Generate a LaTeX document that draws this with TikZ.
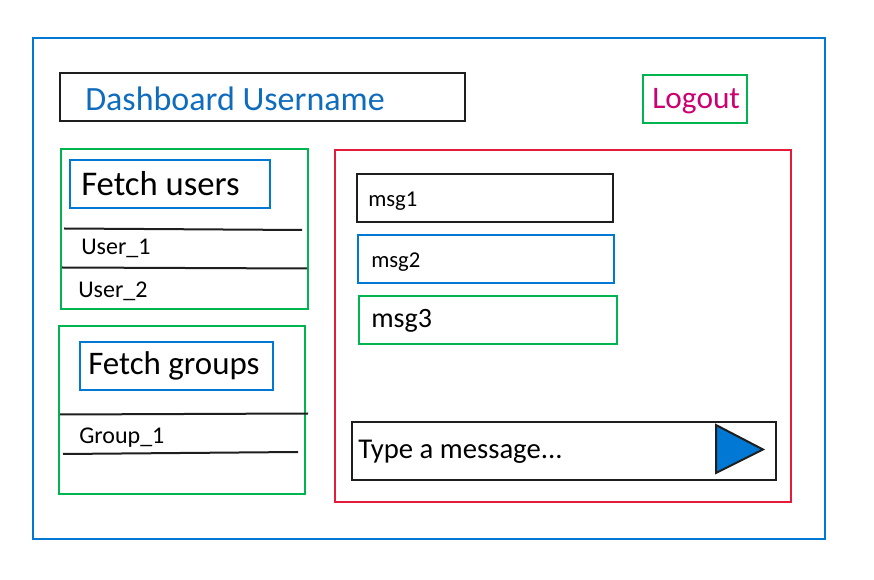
\documentclass[tikz,border=0pt]{standalone}
\usepackage{fontspec}
\setmainfont{Carlito}
\definecolor{wireblue}{HTML}{0078D4}
\definecolor{wiretitle}{HTML}{0F6CBD}
\definecolor{wiregreen}{HTML}{00B550}
\definecolor{wirered}{HTML}{E81A3B}
\definecolor{wirepink}{HTML}{CC0070}
\definecolor{wireblack}{HTML}{1E1E1E}
\tikzset{
  wbox/.style={draw=#1,line width=1.5pt,inner sep=0pt},
  wtext/.style={inner sep=0pt,anchor=west,text=black,font=\fontsize{#1}{#1}\selectfont},
  wline/.style={draw=wireblack,line width=1.5pt}
}
\begin{document}
\begin{tikzpicture}[x=.75pt,y=-.75pt]
\useasboundingbox (0,0) rectangle (874,580);
\node[wbox=wireblue,minimum width=594pt,minimum height=376pt] (page) at (429,288.5) {};
\node[wbox=wireblack,minimum width=304pt,minimum height=36pt] (title) at (262.5,97.5) {};
\node[wtext=25.5,text=wiretitle] (titletext) at (85,99) {Dashboard Username};
\node[wbox=wiregreen,minimum width=78pt,minimum height=36pt] (logout) at (695,99.5) {};
\node[wtext=23.5,text=wirepink] (logouttext) at (652,101) {Logout};
\node[wbox=wiregreen,minimum width=185pt,minimum height=119.5pt] (users) at (184.5,229) {};
\node[wbox=wireblue,minimum width=150.5pt,minimum height=36pt] (fetchusers) at (170,184) {};
\node[wtext=26] (fetchuserstext) at (81,184) {Fetch users};
\coordinate (u1a) at (64,228.5);
\coordinate (u1b) at (302,230);
\coordinate (u2a) at (62,267.5);
\coordinate (u2b) at (307,268.5);
\draw[wline] (u1a) -- (u1b);
\draw[wline] (u2a) -- (u2b);
\node[wtext=18] (user1) at (81,248.5) {User\_1};
\node[wtext=18] (user2) at (78,291.5) {User\_2};
\node[wbox=wiregreen,minimum width=185pt,minimum height=125.5pt] (groups) at (182,410) {};
\node[wbox=wireblue,minimum width=145pt,minimum height=36pt] (fetchgroups) at (176.5,366) {};
\node[wtext=24.7] (fetchgroupstext) at (88,366) {Fetch groups};
\coordinate (g1a) at (60,414.5);
\coordinate (g1b) at (308,413.5);
\coordinate (g2a) at (63,454);
\coordinate (g2b) at (298,452);
\draw[wline] (g1a) -- (g1b);
\draw[wline] (g2a) -- (g2b);
\node[wtext=18] (group1) at (79,437.5) {Group\_1};
\node[wbox=wirered,minimum width=342pt,minimum height=263.5pt] (chat) at (563,326) {};
\node[wbox=wireblack,minimum width=192pt,minimum height=36pt] (msga) at (484.5,198.5) {};
\node[wtext=17] (msgatext) at (368,201) {msg1};
\node[wbox=wireblue,minimum width=192pt,minimum height=36pt] (msgb) at (485.5,259) {};
\node[wtext=17] (msgbtext) at (371,262) {msg2};
\node[wbox=wiregreen,minimum width=193pt,minimum height=36.5pt] (msgc) at (488,320) {};
\node[wtext=21] (msgctext) at (371,321) {msg3};
\node[wbox=wireblack,minimum width=318pt,minimum height=44pt] (input) at (564,451) {};
\node[wtext=21.5] (inputtext) at (358,452) {Type a message...};
\path[draw=wireblack,line width=1.5pt,fill=wireblue] (716,425) -- (763,449.5) -- (716,473) -- cycle;
\end{tikzpicture}
\end{document}
